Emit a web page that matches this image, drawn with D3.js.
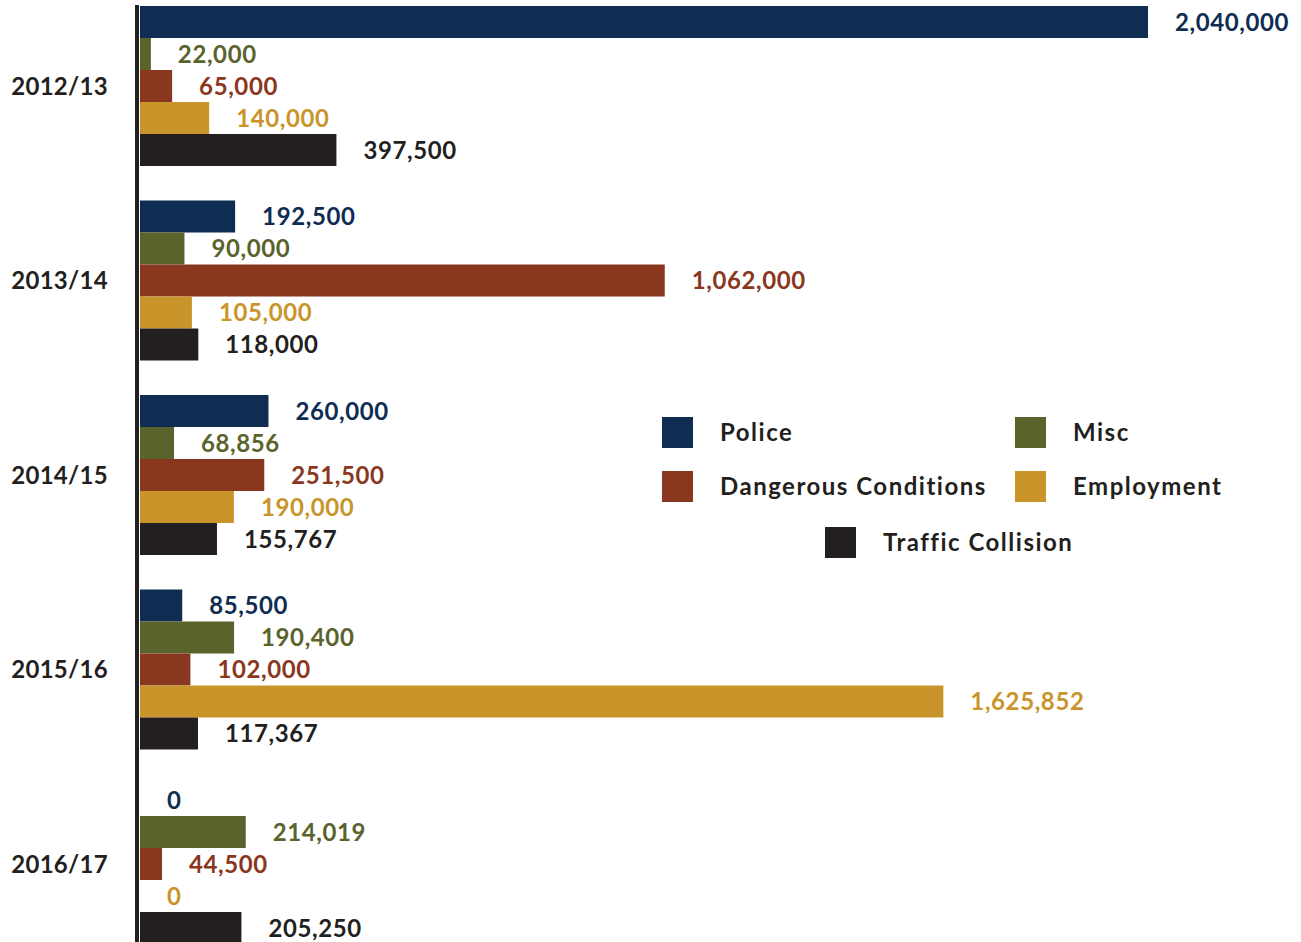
<!DOCTYPE html>
<html>
<head>
<meta charset="utf-8">
<script src="https://cdn.jsdelivr.net/npm/d3@7"></script>
<style>
  body { margin: 0; background: #fff; }
  text { font-family: "Lato", "DejaVu Sans", sans-serif; font-weight: bold; }
</style>
</head>
<body>
<div id="chart"></div>
<script>
// years down the left side
const years = ["2012/13", "2013/14", "2014/15", "2015/16", "2016/17"];

// one bar per series inside each year
const seriesNames = ["Police", "Misc", "Dangerous Conditions", "Employment", "Traffic Collision"];
const seriesColors = ["#0f2d52", "#5a632b", "#8a3720", "#c9952b", "#231f20"];

const police     = [2040000, 192500, 260000, 85500, 0];
const misc       = [22000, 90000, 68856, 190400, 214019];
const dangerous  = [65000, 1062000, 251500, 102000, 44500];
const employment = [140000, 105000, 190000, 1625852, 0];
const traffic    = [397500, 118000, 155767, 117367, 205250];

const seriesValues = [police, misc, dangerous, employment, traffic];

const width = 1301, height = 942;

const svg = d3.select("#chart").append("svg")
  .attr("width", width)
  .attr("height", height);

// build rows for every bar
const rows = [];
years.forEach((yr, i) => {
  seriesNames.forEach((s, j) => {
    rows.push({ year: yr, series: s, value: seriesValues[j][i], color: seriesColors[j] });
  });
});

const x = d3.scaleLinear().domain([0, 2040000]).range([140, 1148]);

const y0 = d3.scaleBand()
  .domain(years)
  .range([6, 944])
  .paddingInner(34.5 / 194.5)
  .paddingOuter(0);

const y1 = d3.scaleBand()
  .domain(seriesNames)
  .range([0, y0.bandwidth()]);

const fmt = d3.format(",");

// bars
svg.selectAll("rect.bar")
  .data(rows)
  .enter()
  .append("rect")
  .attr("class", "bar")
  .attr("x", x(0))
  .attr("y", d => y0(d.year) + y1(d.series))
  .attr("width", d => x(d.value) - x(0))
  .attr("height", y1.bandwidth())
  .attr("fill", d => d.color);

// value labels next to bars
svg.selectAll("text.val")
  .data(rows)
  .enter()
  .append("text")
  .attr("class", "val")
  .attr("x", d => x(d.value) + 27)
  .attr("y", d => y0(d.year) + y1(d.series) + y1.bandwidth() / 2)
  .attr("dy", "0.36em")
  .attr("font-size", 24)
  .attr("letter-spacing", 0.6)
  .attr("fill", d => d.color)
  .text(d => fmt(d.value));

// vertical axis line
svg.append("line")
  .attr("x1", 137).attr("x2", 137)
  .attr("y1", 5).attr("y2", height)
  .attr("stroke", "#231f20")
  .attr("stroke-width", 4);

// year labels
svg.selectAll("text.yr")
  .data(years)
  .enter()
  .append("text")
  .attr("class", "yr")
  .attr("x", 108)
  .attr("y", d => y0(d) + y0.bandwidth() / 2)
  .attr("dy", "0.36em")
  .attr("text-anchor", "end")
  .attr("font-size", 24)
  .attr("letter-spacing", 0.3)
  .attr("fill", "#231f20")
  .text(d => d);

// legend
const legendPos = [
  { x: 662, y: 417 },
  { x: 1015, y: 417 },
  { x: 662, y: 471 },
  { x: 1015, y: 471 },
  { x: 825, y: 527 },
];

const legend = svg.selectAll("g.legend")
  .data(seriesNames)
  .enter()
  .append("g")
  .attr("class", "legend")
  .attr("transform", (d, i) => `translate(${legendPos[i].x},${legendPos[i].y})`);

legend.append("rect")
  .attr("width", 31)
  .attr("height", 31)
  .attr("fill", (d, i) => seriesColors[i]);

legend.append("text")
  .attr("x", 58)
  .attr("y", 15.5)
  .attr("dy", "0.36em")
  .attr("font-size", 24)
  .attr("letter-spacing", 1.5)
  .attr("fill", "#231f20")
  .text(d => d);
</script>
</body>
</html>
